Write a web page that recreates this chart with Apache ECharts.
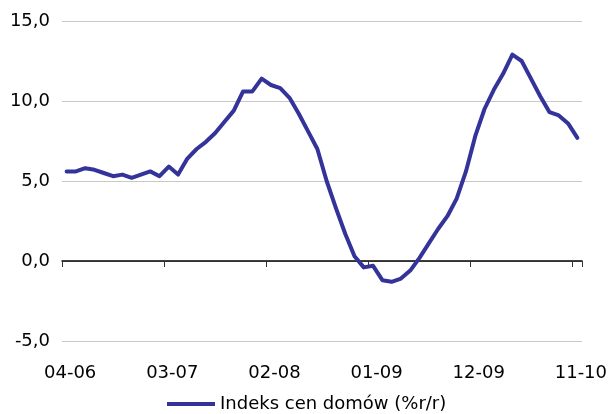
<!DOCTYPE html>
<html>
<head>
<meta charset="utf-8">
<script src="https://cdn.jsdelivr.net/npm/echarts@6/dist/echarts.min.js"></script>
<style>
html,body{margin:0;padding:0;background:#fff;}
#chart{width:610px;height:414px;}
</style>
</head>
<body>
<div id="chart"></div>
<script>
var categories = [
  "04-06","05-06","06-06","07-06","08-06","09-06","10-06","11-06","12-06",
  "01-07","02-07","03-07","04-07","05-07","06-07","07-07","08-07","09-07","10-07","11-07","12-07",
  "01-08","02-08","03-08","04-08","05-08","06-08","07-08","08-08","09-08","10-08","11-08","12-08",
  "01-09","02-09","03-09","04-09","05-09","06-09","07-09","08-09","09-09","10-09","11-09","12-09",
  "01-10","02-10","03-10","04-10","05-10","06-10","07-10","08-10","09-10","10-10","11-10"
];
var seriesName = "Indeks cen domów (%r/r)";
var values = [
  5.6, 5.6, 5.8, 5.7, 5.5, 5.3, 5.4, 5.2, 5.4,
  5.6, 5.3, 5.9, 5.4, 6.4, 7.0, 7.45, 8.0, 8.7, 9.4, 10.6, 10.6,
  11.4, 11.0, 10.8, 10.2, 9.2, 8.1, 7.0, 5.0, 3.3, 1.7, 0.3, -0.4,
  -0.3, -1.2, -1.3, -1.1, -0.6, 0.2, 1.1, 2.0, 2.8, 3.9, 5.6, 7.8,
  9.5, 10.7, 11.7, 12.9, 12.5, 11.4, 10.3, 9.3, 9.1, 8.6, 7.7
];
var yTicks = [-5, 0, 5, 10, 15];

var chart = echarts.init(document.getElementById('chart'), null, {renderer: 'canvas'});
var font = "'DejaVu Sans', 'Liberation Sans', Arial, sans-serif";
chart.setOption({
  animation: false,
  backgroundColor: '#ffffff',
  textStyle: {fontFamily: font},
  grid: {left: 62, right: 25, top: 21, bottom: 73, containLabel: false},
  legend: {
    show: true,
    top: 395,
    left: 167,
    padding: 0,
    icon: 'rect',
    itemWidth: 48,
    itemHeight: 4,
    itemGap: 10,
    textStyle: {fontSize: 18, color: '#000', fontFamily: font},
    data: [seriesName]
  },
  xAxis: [
    {
      type: 'category',
      data: categories,
      boundaryGap: true,
      position: 'bottom',
      axisLine: {show: true, onZero: true, lineStyle: {color: '#000', width: 1.5}},
      axisTick: {show: true, interval: 10, length: 6, lineStyle: {color: '#333', width: 1}},
      axisLabel: {show: false},
      splitLine: {show: false}
    },
    {
      type: 'category',
      data: categories,
      boundaryGap: true,
      position: 'bottom',
      axisLine: {show: false, onZero: false},
      axisTick: {show: false},
      axisLabel: {
        show: true, interval: 10, margin: 23,
        fontSize: 18, color: '#000', fontFamily: font,
        padding: [0, 0, 0, 7]
      },
      splitLine: {show: false}
    }
  ],
  yAxis: {
    type: 'value',
    min: yTicks[0],
    max: yTicks[yTicks.length - 1],
    interval: 5,
    axisLine: {show: false},
    axisTick: {show: false},
    axisLabel: {
      margin: 12, fontSize: 18, color: '#000', fontFamily: font,
      formatter: function (v) { return v.toFixed(1).replace('.', ','); }
    },
    splitLine: {show: true, lineStyle: {color: '#c8c8c8', width: 1}}
  },
  series: [{
    name: seriesName,
    type: 'line',
    xAxisIndex: 0,
    data: values,
    symbol: 'none',
    smooth: false,
    lineStyle: {color: '#333399', width: 4, cap: 'round', join: 'round'},
    itemStyle: {color: '#333399'}
  }]
});
</script>
</body>
</html>
